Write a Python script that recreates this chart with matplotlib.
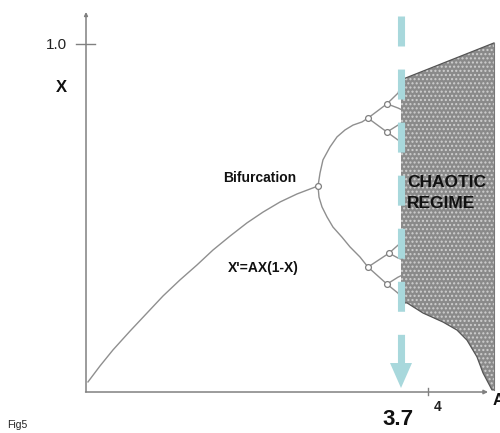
import matplotlib
matplotlib.use("Agg")
import matplotlib.pyplot as plt

plt.rcParams['font.family'] = ['Liberation Sans', 'DejaVu Sans']
plt.rcParams['lines.scale_dashes'] = False
plt.rcParams['hatch.linewidth'] = 1.0

# ---- data (A = control parameter, X = population) ----
main_A = [0.222, 0.356, 0.5, 0.689, 0.878, 1.056, 1.244, 1.433, 1.611, 1.8, 1.989, 2.167, 2.356, 2.544, 2.778]
main_X = [0.029, 0.075, 0.121, 0.175, 0.227, 0.276, 0.322, 0.365, 0.408, 0.448, 0.486, 0.517, 0.546, 0.569, 0.592]

up_A = [2.778, 2.8, 2.833, 2.911, 2.989, 3.078, 3.167, 3.267, 3.333]
up_X = [0.592, 0.629, 0.667, 0.704, 0.733, 0.753, 0.767, 0.776, 0.787]

low_A = [2.778, 2.789, 2.822, 2.878, 2.944, 3.044, 3.133, 3.244, 3.333]
low_X = [0.592, 0.560, 0.532, 0.503, 0.474, 0.445, 0.417, 0.388, 0.359]

# period-4 and period-8 branches: (A list, X list)
branches = [
    ([3.333, 3.544], [0.787, 0.828]),
    ([3.333, 3.544], [0.787, 0.747]),
    ([3.333, 3.567], [0.359, 0.399]),
    ([3.333, 3.544], [0.359, 0.310]),
    ([3.544, 3.667, 3.7], [0.828, 0.859, 0.885]),
    ([3.544, 3.667, 3.7], [0.828, 0.816, 0.812]),
    ([3.544, 3.667, 3.7], [0.747, 0.767, 0.772]),
    ([3.544, 3.667, 3.7], [0.747, 0.724, 0.718]),
    ([3.567, 3.667, 3.7], [0.399, 0.422, 0.428]),
    ([3.567, 3.667, 3.7], [0.399, 0.385, 0.382]),
    ([3.544, 3.667, 3.7], [0.310, 0.330, 0.334]),
    ([3.544, 3.667, 3.7], [0.310, 0.284, 0.270]),
]

bif_A = [2.778, 3.333, 3.333, 3.544, 3.544, 3.567, 3.544]
bif_X = [0.592, 0.787, 0.359, 0.828, 0.747, 0.399, 0.310]

chaos_top_A = [3.7, 4.733]
chaos_top_X = [0.897, 1.003]
chaos_bot_A = [3.7, 3.767, 3.944, 4.167, 4.322, 4.433, 4.544, 4.611, 4.711, 4.733]
chaos_bot_X = [0.256, 0.256, 0.227, 0.201, 0.178, 0.149, 0.101, 0.055, 0.006, 0.006]

onset_A = 3.7
axis_A0 = 0.2
xtick_vals = [4]
ytick_vals = [1.0]

# ---- figure ----
fig = plt.figure(figsize=(5.0, 4.33), dpi=100)
ax = fig.add_axes([0, 0, 1, 1])
ax.set_xlim(-0.7556, 4.8)
ax.set_ylim(-0.1178, 1.1264)
ax.axis('off')

curve_c = '#8f8f8f'
axis_c = '#808080'

# axes with arrows
ax.annotate('', xy=(axis_A0, 1.092), xytext=(axis_A0, 0),
            arrowprops=dict(arrowstyle='-|>', mutation_scale=5, lw=1.1, color=axis_c,
                            shrinkA=0, shrinkB=0))
ax.annotate('', xy=(4.667, 0), xytext=(axis_A0 - 0.005, 0),
            arrowprops=dict(arrowstyle='-|>', mutation_scale=6, lw=1.1, color=axis_c,
                            shrinkA=0, shrinkB=0))
for v in ytick_vals:
    ax.plot([0.089, 0.3], [v, v], color=axis_c, lw=1.0)
    ax.text(-0.133, v - 0.003, '1.0', ha='center', va='center', fontsize=11, color='#222222')
for v in xtick_vals:
    ax.plot([v, v], [0.0115, -0.009], color=axis_c, lw=1.0)
    ax.text(v + 0.111, -0.043, str(v), ha='center', va='center', fontsize=10,
            fontweight='bold', color='#222222')

# chaotic region
poly_A = chaos_top_A + chaos_bot_A[::-1]
poly_X = chaos_top_X + chaos_bot_X[::-1]
ax.fill(poly_A, poly_X, facecolor='#8a8a8a', edgecolor='#cfcfcf', hatch='....', lw=0, zorder=2)
ax.plot(chaos_top_A, chaos_top_X, color='#555555', lw=0.9, zorder=3)
ax.plot(chaos_bot_A, chaos_bot_X, color='#555555', lw=0.9, zorder=3)
ax.plot([chaos_top_A[-1], chaos_bot_A[-1]], [chaos_top_X[-1], chaos_bot_X[-1]],
        color='#777777', lw=0.8, zorder=3)

# bifurcation curves
ax.plot(main_A, main_X, color=curve_c, lw=1.0, zorder=1)
ax.plot(up_A, up_X, color=curve_c, lw=1.0, zorder=1)
ax.plot(low_A, low_X, color=curve_c, lw=1.0, zorder=1)
for a, x in branches:
    ax.plot(a, x, color=curve_c, lw=1.0, zorder=1)
ax.plot(bif_A, bif_X, 'o', ms=4.2, mfc='white', mec='#7f7f7f', mew=0.9, zorder=4)

# cyan dashed arrow at A = 3.7
ax.plot([onset_A, onset_A], [1.0805, 0.0833], color='#a8d8dc', lw=5.1,
        dashes=(21.6, 16.6), solid_capstyle='butt', dash_capstyle='butt', zorder=5)
hw = 0.122
ax.fill([onset_A - hw, onset_A + hw, onset_A], [0.0833, 0.0833, 0.0115],
        color='#a8d8dc', lw=0, zorder=5)

# texts
ax.text(2.133, 0.615, 'Bifurcation', ha='center', va='center', fontsize=10,
        fontweight='bold', color='#111111')
ax.text(2.167, 0.356, "X'=AX(1-X)", ha='center', va='center', fontsize=10,
        fontweight='bold', color='#111111')
ax.text(3.767, 0.603, 'CHAOTIC', ha='left', va='center', fontsize=12.5,
        fontweight='bold', color='#111111', zorder=6)
ax.text(3.767, 0.543, 'REGIME', ha='left', va='center', fontsize=12.5,
        fontweight='bold', color='#111111', zorder=6)
ax.text(3.667, -0.080, '3.7', ha='center', va='center', fontsize=16,
        fontweight='bold', color='#111111')
ax.text(4.722, -0.023, 'A', ha='left', va='center', fontsize=12,
        fontweight='bold', color='#111111')
ax.text(-0.078, 0.876, 'X', ha='center', va='center', fontsize=12,
        fontweight='bold', color='#111111')
ax.text(-0.678, -0.095, 'Fig5', ha='left', va='center', fontsize=7.5, color='#222222')

fig.savefig('out.png', dpi=100)
